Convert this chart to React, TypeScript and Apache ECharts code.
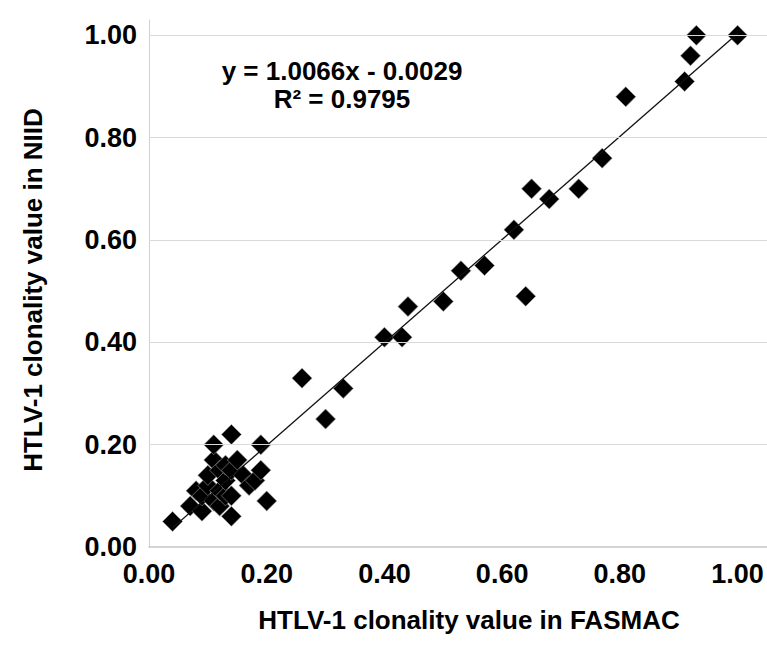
import React, { useEffect, useRef } from "react";
import * as echarts from "echarts";

// HTLV-1 clonality values: FASMAC (x) vs NIID (y)
const fasmacValues = [
  0.04, 0.07, 0.08, 0.09, 0.09, 0.10, 0.10, 0.11, 0.11, 0.11,
  0.12, 0.12, 0.12, 0.13, 0.13, 0.13, 0.14, 0.14, 0.14, 0.14,
  0.15, 0.16, 0.17, 0.18, 0.19, 0.19, 0.20,
  0.26, 0.30, 0.33, 0.40, 0.43, 0.44, 0.50, 0.53, 0.57, 0.62,
  0.64, 0.65, 0.68, 0.73, 0.77, 0.81, 0.91, 0.92, 0.93, 1.00,
];
const niidValues = [
  0.05, 0.08, 0.11, 0.07, 0.10, 0.12, 0.14, 0.09, 0.17, 0.20,
  0.08, 0.11, 0.15, 0.10, 0.13, 0.16, 0.06, 0.10, 0.22, 0.15,
  0.17, 0.14, 0.12, 0.13, 0.15, 0.20, 0.09,
  0.33, 0.25, 0.31, 0.41, 0.41, 0.47, 0.48, 0.54, 0.55, 0.62,
  0.49, 0.70, 0.68, 0.70, 0.76, 0.88, 0.91, 0.96, 1.00, 1.00,
];

const tickValues = [0, 0.2, 0.4, 0.6, 0.8, 1.0];
const gridValues = [0.2, 0.4, 0.6, 0.8, 1.0];

const trendSlope = 1.0066;
const trendIntercept = -0.0029;
const rSquared = 0.9795;

const xTitle = "HTLV-1 clonality value in FASMAC";
const yTitle = "HTLV-1 clonality value in NIID";

const FONT = "'Liberation Sans', Arial, Helvetica, sans-serif";

export default function App() {
  const ref = useRef<HTMLDivElement>(null);

  useEffect(() => {
    document.body.style.margin = "0";
    if (!ref.current) return;
    const chart = echarts.init(ref.current, null, { renderer: "svg" });

    const points = fasmacValues.map((x, i) => [x, niidValues[i]]);
    const xMin = Math.min(...fasmacValues);
    const xMax = Math.max(...fasmacValues);
    const trend = [
      [xMin, trendSlope * xMin + trendIntercept],
      [xMax, trendSlope * xMax + trendIntercept],
    ];

    const labelStyle = {
      fontFamily: FONT,
      fontWeight: "bold" as const,
      fontSize: 27,
      color: "#000",
    };
    const fmt = (v: number) =>
      tickValues.some((t) => Math.abs(t - v) < 1e-6) ? v.toFixed(2) : "";

    chart.setOption({
      animation: false,
      backgroundColor: "#fff",
      grid: { left: 149, right: 0, top: 20, bottom: 113, containLabel: false },
      xAxis: {
        type: "value",
        min: 0,
        max: 1.05,
        interval: 0.2,
        axisLine: { show: true, lineStyle: { color: "#c6c6c6", width: 1.5 } },
        axisTick: { show: false },
        splitLine: { show: false },
        axisLabel: { ...labelStyle, margin: 13, showMaxLabel: false, formatter: fmt },
      },
      yAxis: {
        type: "value",
        min: 0,
        max: 1.03,
        interval: 0.2,
        axisLine: { show: true, lineStyle: { color: "#d0d0d0", width: 1 } },
        axisTick: { show: false },
        splitLine: { show: false },
        axisLabel: { ...labelStyle, margin: 12, showMaxLabel: false, formatter: fmt },
      },
      series: [
        {
          type: "line",
          data: gridValues.map(() => null),
          showSymbol: false,
          silent: true,
          markLine: {
            silent: true,
            symbol: ["none", "none"],
            label: { show: false },
            lineStyle: { color: "#d9d9d9", width: 1, type: "solid" },
            data: gridValues.map((v) => ({ yAxis: v })),
          },
          z: 1,
        },
        {
          type: "scatter",
          data: points,
          symbol: "diamond",
          symbolSize: 20,
          itemStyle: { color: "#000", opacity: 1, borderColor: "#9a9a9a", borderWidth: 0.6 },
          z: 3,
        },
        {
          type: "line",
          data: trend,
          showSymbol: false,
          lineStyle: { color: "#111", width: 1.3 },
          z: 4,
        },
      ],
      graphic: [
        {
          type: "text",
          x: 342,
          y: 58,
          style: {
            text: `y = ${trendSlope.toFixed(4)}x - ${Math.abs(trendIntercept).toFixed(4)}`,
            align: "center",
            verticalAlign: "top",
            font: `bold 26px ${FONT}`,
            fill: "#000",
          },
        },
        {
          type: "text",
          x: 342,
          y: 86,
          style: {
            text: `R² = ${rSquared.toFixed(4)}`,
            align: "center",
            verticalAlign: "top",
            font: `bold 26px ${FONT}`,
            fill: "#000",
          },
        },
        {
          type: "text",
          x: 469,
          y: 620,
          style: {
            text: xTitle,
            align: "center",
            verticalAlign: "middle",
            font: `bold 26px ${FONT}`,
            fill: "#000",
          },
        },
        {
          type: "text",
          x: 33,
          y: 290,
          rotation: Math.PI / 2,
          style: {
            text: yTitle,
            align: "center",
            verticalAlign: "middle",
            font: `bold 26px ${FONT}`,
            fill: "#000",
          },
        },
      ],
    });

    return () => chart.dispose();
  }, []);

  return <div ref={ref} style={{ width: 767, height: 660 }} />;
}
